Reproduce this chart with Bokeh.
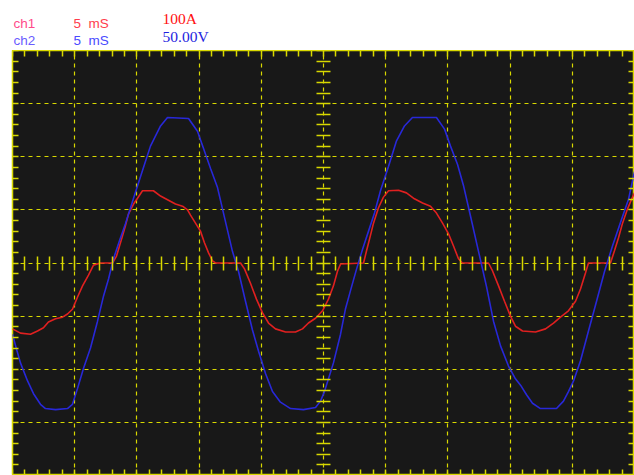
from bokeh.plotting import figure
from bokeh.layouts import column
from bokeh.models import Range1d, LinearAxis, FixedTicker, Grid, CustomJSTickFormatter
from bokeh.core.properties import value
from bokeh.embed import file_html
from bokeh.resources import INLINE

# ---- data read from the scope screen ----
# ch2 : voltage (V), time in ms
t_volt = [0.0, 0.32, 0.64, 1.21, 1.69, 2.25, 2.65, 3.46, 4.42, 4.82, 5.23, 5.71, 6.27, 6.83,
          7.32, 7.72, 8.12, 8.60, 9.08, 9.73, 10.45, 11.09, 11.90, 12.46, 14.15, 14.87, 15.35,
          15.92, 16.48, 16.96, 17.68, 18.17, 18.73, 19.29, 19.78, 20.34, 20.90, 21.54, 22.35,
          23.39, 24.36, 24.76, 25.08, 25.80, 26.37, 26.77, 27.17, 27.65, 28.14, 28.62, 29.10,
          29.58, 30.23, 30.87, 31.51, 32.15, 34.08, 34.73, 35.21, 35.77, 36.25, 36.82, 37.46,
          38.10, 38.67, 39.23, 39.87, 40.43, 40.84, 41.32, 41.80, 42.44, 43.73, 44.29, 44.69,
          45.10, 45.66, 46.30, 46.95, 47.59, 48.23, 48.87, 49.52, 50.0]
volts = [-67, -81, -94, -111, -123, -133, -137, -138, -137, -133, -118, -99, -80, -55,
         -31, -15, 4, 21, 37, 61, 87, 110, 129, 137, 136, 124, 108,
         89, 71, 47, 11, -8, -36, -63, -83, -104, -121, -131, -137,
         -138, -136, -130, -121, -94, -67, -43, -26, -6, 13, 30, 47,
         68, 91, 115, 129, 137, 137, 126, 110, 93, 73, 44, 11,
         -22, -55, -78, -97, -109, -115, -124, -132, -137, -137, -130, -121,
         -111, -92, -64, -36, -8, 16, 38, 60, 86]

# ch1 : current (A), time in ms
t_amp = [0.0, 0.64, 1.45, 2.01, 2.49, 2.89, 3.46, 4.02, 4.42, 4.82, 5.23, 5.63, 6.11, 6.51,
         7.07, 8.04, 8.36, 8.60, 8.84, 9.08, 9.32, 9.73, 10.05, 10.45, 11.33, 11.90, 12.46,
         13.10, 13.67, 14.07, 14.31, 14.71, 15.11, 15.43, 15.76, 16.08, 16.32, 18.33, 18.65,
         19.13, 19.61, 20.10, 20.58, 21.14, 21.95, 22.75, 23.31, 23.79, 24.36, 24.92, 25.40,
         25.80, 26.13, 26.37, 28.22, 28.46, 28.70, 29.02, 29.42, 29.82, 30.23, 31.03, 31.67,
         32.23, 32.96, 33.60, 34.08, 34.57, 35.05, 35.45, 35.85, 36.17, 38.26, 38.59, 39.07,
         39.55, 40.03, 40.43, 41.00, 42.04, 42.85, 43.49, 44.05, 44.69, 45.26, 45.66, 46.06,
         46.30, 48.07, 48.39, 48.71, 49.04, 49.44, 49.84, 50.0]
amps = [-124, -132, -134, -128, -122, -111, -105, -102, -96, -87, -64, -43, -23, -4,
        0, 0, 13, 32, 51, 70, 92, 111, 122, 136, 136, 126, 119,
        111, 107, 100, 90, 75, 60, 38, 19, 4, 0, 0, -11,
        -38, -68, -94, -113, -124, -130, -130, -124, -113, -104, -90, -68,
        -43, -15, -2, 0, 23, 45, 75, 104, 124, 136, 137, 132,
        122, 113, 107, 94, 75, 55, 32, 8, 0, 0, -15, -43,
        -72, -100, -119, -128, -130, -124, -113, -102, -90, -72, -49, -19,
        0, 0, 23, 47, 75, 102, 124, 132]

ms_per_div = 5
volts_per_div = 50
amps_per_div = 100
n_xdiv = 10
n_ydiv = 8
header_ch = ["ch1", "ch2"]
header_time = ["5\u00a0 mS", "5\u00a0 mS"]
header_scale = ["100A", "50.00V"]

YEL = "#d8d800"
BG = "#181818"
W = 634
LEFT = 12
HEAD_H = 50
MAIN_H = 425

x_max = ms_per_div * n_xdiv
v_half = volts_per_div * n_ydiv / 2
a_half = amps_per_div * n_ydiv / 2

# ---- header strip with the channel settings ----
h = figure(width=W, height=HEAD_H, x_range=Range1d(0, x_max), y_range=Range1d(0, HEAD_H),
           x_axis_type=None, y_axis_type=None, output_backend="svg", toolbar_location=None,
           min_border_left=LEFT, min_border_right=0, min_border_top=0, min_border_bottom=0)
h.outline_line_color = None
h.background_fill_color = "white"
h.border_fill_color = "white"
h.grid.visible = False

ms_per_px = x_max / (W - LEFT)


def hdr(xpx, base_px, text, color, font, size):
    h.text(x=[(xpx - LEFT) * ms_per_px], y=[base_px], text=[text], text_color=color,
           text_font=value(font), text_font_size=size, text_baseline="alphabetic")


hdr(13, 27, header_ch[0], "#ff4a8a", "Liberation Sans", "13.5px")
hdr(73, 27, header_time[0], "#ff3c4c", "Liberation Sans", "13.5px")
hdr(162, 32, header_scale[0], "#ff1010", "Liberation Serif", "15.5px")
hdr(13, 10, header_ch[1], "#6a5cff", "Liberation Sans", "13.5px")
hdr(73, 10, header_time[1], "#4a4aff", "Liberation Sans", "13.5px")
hdr(162, 14, header_scale[1], "#1e1ee0", "Liberation Serif", "15.5px")

# ---- scope screen ----
p = figure(width=W, height=MAIN_H,
           x_range=Range1d(0, x_max), y_range=Range1d(-v_half, v_half),
           x_axis_type=None, y_axis_type=None,
           output_backend="svg", toolbar_location=None,
           min_border_left=LEFT, min_border_right=0, min_border_top=0, min_border_bottom=0)
p.extra_y_ranges = {"amps": Range1d(-a_half, a_half)}
p.background_fill_color = BG
p.border_fill_color = "white"
p.outline_line_color = YEL
p.outline_line_width = 1.5

xg = Grid(dimension=0, ticker=FixedTicker(ticks=[ms_per_div * i for i in range(1, n_xdiv)]),
          grid_line_color=YEL, grid_line_dash="4 4", grid_line_width=1.2)
yg = Grid(dimension=1, ticker=FixedTicker(ticks=[volts_per_div * i for i in range(-n_ydiv // 2 + 1, n_ydiv // 2)]),
          grid_line_color=YEL, grid_line_dash="4 4", grid_line_width=1.2)
p.add_layout(xg)
p.add_layout(yg)

x_sub = [ms_per_div / 5 * i for i in range(0, n_xdiv * 5 + 1)]
y_sub = [volts_per_div / 5 * i for i in range(-n_ydiv * 5 // 2, n_ydiv * 5 // 2 + 1)]
blank = CustomJSTickFormatter(code="return ''")


def scope_axis(place, loc, ticks, tin, tout):
    ax = LinearAxis(fixed_location=loc, ticker=FixedTicker(ticks=ticks),
                    major_tick_in=tin, major_tick_out=tout,
                    minor_tick_in=0, minor_tick_out=0,
                    major_tick_line_color=YEL, major_tick_line_width=1.5,
                    axis_line_color=None, formatter=blank,
                    major_label_standoff=0, major_label_text_font_size="1px")
    p.add_layout(ax, place)


scope_axis("below", -v_half, x_sub, 6, 0)
scope_axis("above", v_half, x_sub, 6, 0)
scope_axis("left", 0, y_sub, 6, 0)
scope_axis("right", x_max, y_sub, 6, 0)
scope_axis("below", 0, x_sub, 7, 7)
scope_axis("left", x_max / 2, y_sub, 7, 7)

p.line(t_amp, amps, y_range_name="amps", line_color="#e02020", line_width=1.6)
p.line(t_volt, volts, line_color="#2828d8", line_width=1.6)

layout = column(h, p, spacing=0)
open("out.html", "w").write(file_html(layout, INLINE))
